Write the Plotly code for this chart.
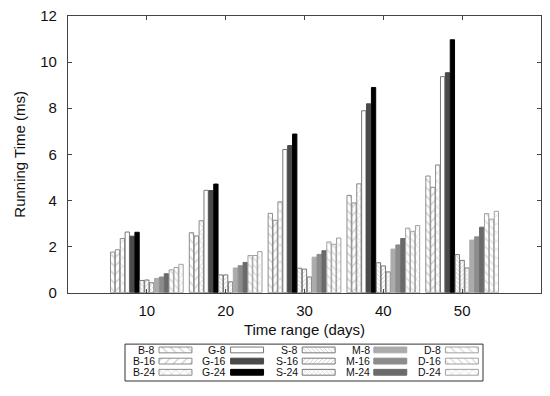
import plotly.graph_objects as go

# ---------------- data ----------------
time_ranges = [10, 20, 30, 40, 50]
series_names = ["B-8", "B-16", "B-24", "G-8", "G-16", "G-24",
                "S-8", "S-16", "S-24", "M-8", "M-16", "M-24",
                "D-8", "D-16", "D-24"]
b8 = [1.76, 2.60, 3.44, 4.22, 5.06]
b16 = [1.86, 2.46, 3.14, 3.89, 4.57]
b24 = [2.35, 3.12, 3.94, 4.72, 5.54]
g8 = [2.63, 4.44, 6.21, 7.89, 9.37]
g16 = [2.45, 4.43, 6.38, 8.19, 9.54]
g24 = [2.62, 4.71, 6.88, 8.90, 10.97]
s8 = [0.53, 0.77, 1.06, 1.30, 1.65]
s16 = [0.55, 0.77, 1.02, 1.16, 1.40]
s24 = [0.43, 0.47, 0.68, 0.90, 1.07]
m8 = [0.62, 1.07, 1.54, 1.89, 2.28]
m16 = [0.68, 1.17, 1.66, 2.07, 2.42]
m24 = [0.82, 1.31, 1.82, 2.35, 2.84]
d8 = [0.99, 1.61, 2.20, 2.80, 3.43]
d16 = [1.09, 1.61, 2.10, 2.66, 3.19]
d24 = [1.23, 1.78, 2.37, 2.91, 3.53]
series_values = [b8, b16, b24, g8, g16, g24, s8, s16, s24,
                 m8, m16, m24, d8, d16, d24]
y_ticks = [0, 2, 4, 6, 8, 10, 12]

# ---------------- styles ----------------
def hatch(shape, fg, size, line="#8a8a8a"):
    return dict(color="white",
                pattern=dict(shape=shape, fgcolor=fg, bgcolor="white",
                             size=size, solidity=0.25),
                line=dict(color=line, width=1))

def solid(c, line=None):
    return dict(color=c, line=dict(color=line or c, width=1))

styles = [
    hatch("\\", "#a8a8a8", 6), hatch("/", "#a8a8a8", 6), hatch("x", "#a8a8a8", 6),
    solid("white", "#777777"), solid("#4a4a4a"), solid("#000000"),
    hatch("\\", "#8a8a8a", 3, "#777777"), hatch("/", "#8a8a8a", 3, "#777777"),
    hatch("x", "#8a8a8a", 3, "#777777"),
    solid("#ababab"), solid("#8c8c8c"), solid("#6a6a6a"),
    hatch("\\", "#b8b8b8", 6, "#a0a0a0"), hatch("\\", "#b8b8b8", 5, "#a0a0a0"),
    hatch("x", "#b8b8b8", 6, "#a0a0a0"),
]

FONT = "Liberation Sans, Arial, sans-serif"
W, H = 550, 396
PL, PR, PT, PB = 68, 541, 13, 298      # main plot area (px)
LL, LR, LT, LB = 125, 483, 351, 389    # legend box (px)
paper_h = LB - PT
paper_w = PR - PL

fig = go.Figure()
for name, vals, st in zip(series_names, series_values, styles):
    fig.add_trace(go.Bar(x=time_ranges, y=vals, name=name, marker=st,
                         showlegend=False, xaxis="x", yaxis="y"))

# ---------------- custom legend (5 columns x 3 rows) ----------------
n_cols = 5
n_rows = 3
sw_off, sw_len, sw_thick, txt_off = 0.475, 0.46, 0.52, 0.445
for i, (name, st) in enumerate(zip(series_names, styles)):
    col = i // n_rows
    row = i % n_rows
    yv = (n_rows - 1) - row
    fig.add_trace(go.Bar(x=[sw_len], y=[yv], base=[col + sw_off],
                         width=[sw_thick], offset=-sw_thick / 2,
                         orientation="h", marker=st,
                         showlegend=False, hoverinfo="skip",
                         xaxis="x2", yaxis="y2"))
    fig.add_annotation(x=col + txt_off, y=yv, xref="x2", yref="y2",
                       text=name, showarrow=False, xanchor="right",
                       yanchor="middle", font=dict(family=FONT, size=10.5, color="#111"))

fig.add_shape(type="rect", xref="x2 domain", yref="y2 domain",
              x0=0, x1=1, y0=0, y1=1, line=dict(color="#333", width=1))

axis_line = "#444444"
fig.update_layout(
    width=W, height=H,
    margin=dict(l=PL, r=W - PR, t=PT, b=H - LB),
    paper_bgcolor="white", plot_bgcolor="white",
    barmode="group", bargap=0.07, bargroupgap=0.12,
    font=dict(family=FONT, color="#111"),
    xaxis=dict(domain=[0, 1], range=[0, 60], tickvals=time_ranges,
               ticktext=[str(t) for t in time_ranges],
               ticks="inside", ticklen=4, tickcolor=axis_line, mirror="ticks",
               showline=True, linecolor=axis_line, linewidth=1.2,
               showgrid=False, zeroline=False, anchor="y",
               tickfont=dict(size=15), ticklabelstandoff=4,
               title=dict(text="Time range (days)", font=dict(size=15), standoff=6)),
    yaxis=dict(domain=[(LB - PB) / paper_h, 1], range=[0, 12], tickvals=y_ticks,
               ticks="inside", ticklen=4, tickcolor=axis_line, mirror="ticks",
               showline=True, linecolor=axis_line, linewidth=1.2,
               showgrid=False, zeroline=False, anchor="x",
               tickfont=dict(size=15), ticklabelstandoff=7,
               title=dict(text="Running Time (ms)", font=dict(size=15), standoff=10)),
    xaxis2=dict(domain=[(LL - PL) / paper_w, (LR - PL) / paper_w],
                range=[0, n_cols], visible=False, anchor="y2", fixedrange=True),
    yaxis2=dict(domain=[0, (LB - LT) / paper_h], range=[-0.78, 2.52],
                visible=False, anchor="x2", fixedrange=True),
)

fig.write_html("out.html", config={"displayModeBar": False},
               post_script="document.body.style.margin='0';"
                           "document.body.style.padding='0';")
